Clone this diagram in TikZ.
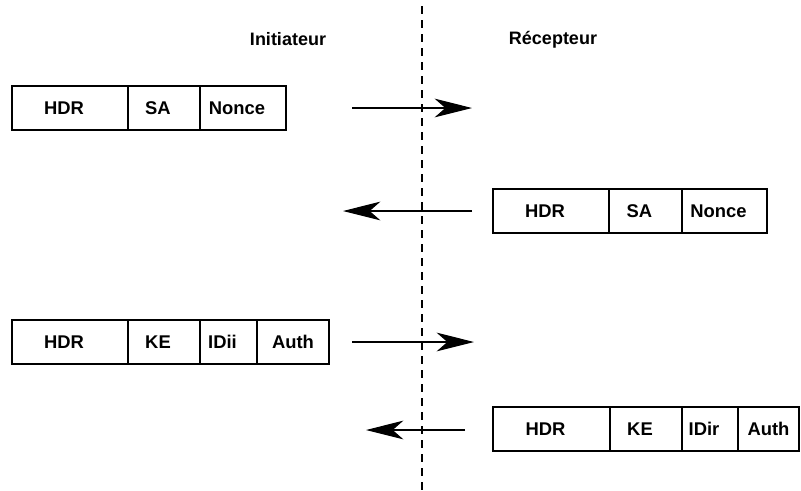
\documentclass[tikz,border=0pt]{standalone}
\usepackage{fontspec}
\setmainfont{Liberation Sans}
\usetikzlibrary{arrows.meta}
\begin{document}
\begin{tikzpicture}[x=0.75pt, y=-0.75pt,
        lastfield/.style={draw, line width=1pt, inner sep=0pt, minimum height=33pt,
            font=\fontsize{13.8}{15}\selectfont\bfseries},
        field/.style={lastfield, execute at end node=\hspace{9pt}},
        msg/.style={line width=0.8pt, -{Stealth[length=28pt, width=14pt, inset=8pt]}}]
    \useasboundingbox (0,0) rectangle (801,490);
    % headers
    \node[font=\fontsize{13.5}{15}\selectfont\bfseries] (init) at (288,39) {Initiateur};
    \node[font=\fontsize{13.5}{15}\selectfont\bfseries] (recp) at (553,40) {R\'ecepteur};
    % separator
    \coordinate (sepA) at (422,6);
    \coordinate (sepB) at (422,490);
    \draw[line width=0.8pt, dash pattern=on 6pt off 4.5pt] (sepA) -- (sepB);
    % message 1
    \node[field, minimum width=87pt] (hdrA) at (70,108) {HDR};
    \node[field, minimum width=54pt] (saA) at (164,108) {SA};
    \node[field, minimum width=64.5pt] (nonceA) at (243,108) {Nonce};
    \coordinate (a1) at (352,108);
    \coordinate (b1) at (472,108);
    \draw[msg] (a1) -- (b1);
    % message 2
    \node[field, minimum width=87pt] (hdrB) at (551,211) {HDR};
    \node[field, minimum width=54.75pt] (saB) at (645.5,211) {SA};
    \node[field, minimum width=63.75pt] (nonceB) at (724.5,211) {Nonce};
    \coordinate (a2) at (472,211);
    \coordinate (b2) at (343,211);
    \draw[msg] (a2) -- (b2);
    % message 3
    \node[field, minimum width=87pt] (hdrC) at (70,342) {HDR};
    \node[field, minimum width=54pt] (keC) at (164,342) {KE};
    \node[field, minimum width=42.75pt] (idC) at (228.5,342) {IDii};
    \node[lastfield, minimum width=54pt] (authC) at (293,342) {Auth};
    \coordinate (a3) at (352,342);
    \coordinate (b3) at (474,342);
    \draw[msg] (a3) -- (b3);
    % message 4
    \node[field, minimum width=87.75pt] (hdrD) at (551.5,429) {HDR};
    \node[field, minimum width=54pt] (keD) at (646,429) {KE};
    \node[field, minimum width=42pt] (idD) at (710,429) {IDir};
    \node[lastfield, minimum width=45.75pt] (authD) at (768.5,429) {Auth};
    \coordinate (a4) at (465,430);
    \coordinate (b4) at (366,430);
    \draw[msg] (a4) -- (b4);
\end{tikzpicture}
\end{document}
